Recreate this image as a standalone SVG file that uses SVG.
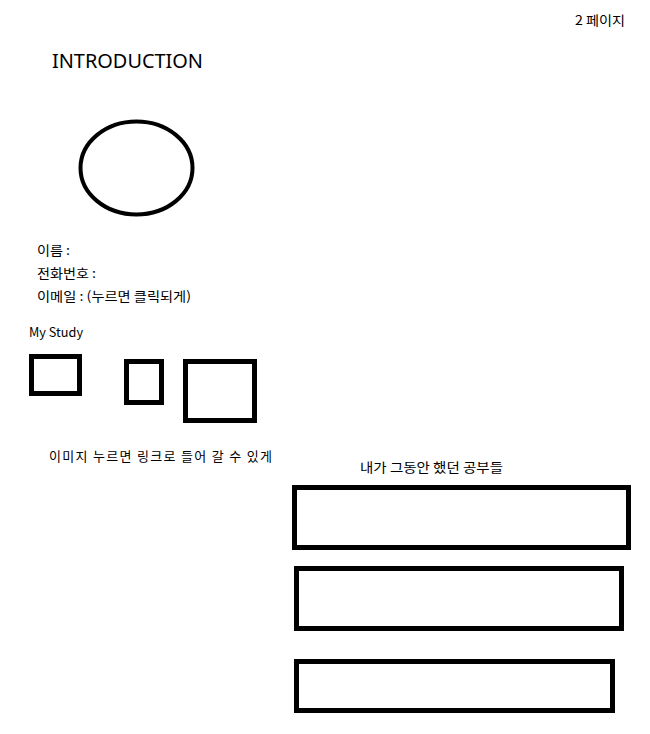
<svg xmlns="http://www.w3.org/2000/svg" width="650" height="734" viewBox="0 0 650 734">
<style>
  .t { font-family: "Noto Sans CJK KR", "Noto Sans", sans-serif; font-size: 13px; fill: #000; }
  .h { font-family: "Noto Sans", "Open Sans", sans-serif; font-size: 20px; fill: #000; }
  .box { fill: #fff; stroke: #000; stroke-width: 5; }
  .ell { fill: #fff; stroke: #000; stroke-width: 4; }
</style>
<rect width="650" height="734" fill="#fff"/>
<g id="page-label"><text class="t" x="575" y="25" textLength="50" lengthAdjust="spacingAndGlyphs">2 페이지</text></g>
<g id="title"><text class="h" x="52" y="68" textLength="151" lengthAdjust="spacingAndGlyphs">INTRODUCTION</text></g>
<g id="photo"><ellipse class="ell" cx="136.5" cy="168" rx="56" ry="46.5"/></g>
<g id="info">
  <text class="t" x="37" y="255" textLength="33" lengthAdjust="spacingAndGlyphs">이름 :</text>
  <text class="t" x="37" y="278" textLength="59" lengthAdjust="spacingAndGlyphs">전화번호 :</text>
  <text class="t" x="37" y="301" textLength="154" lengthAdjust="spacingAndGlyphs">이메일 : (누르면 클릭되게)</text>
</g>
<g id="my-study-label"><text class="t" x="29" y="337" textLength="54" lengthAdjust="spacingAndGlyphs">My Study</text></g>
<g id="study-1"><rect class="box" x="31.5" y="356.5" width="48" height="37"/></g>
<g id="study-2"><rect class="box" x="126.5" y="361.5" width="35" height="41"/></g>
<g id="study-3"><rect class="box" x="185.5" y="361.5" width="69" height="59"/></g>
<g id="study-note"><text class="t" x="49" y="461" textLength="223" lengthAdjust="spacing">이미지 누르면 링크로 들어 갈 수 있게</text></g>
<g id="history-label"><text class="t" x="360" y="472" textLength="143" lengthAdjust="spacingAndGlyphs">내가 그동안 했던 공부들</text></g>
<g id="history-1"><rect class="box" x="294.5" y="487.5" width="334" height="60"/></g>
<g id="history-2"><rect class="box" x="296.5" y="568.5" width="325" height="60"/></g>
<g id="history-3"><rect class="box" x="296.5" y="661.5" width="316" height="49"/></g>
<g id="connectors"></g>
</svg>
